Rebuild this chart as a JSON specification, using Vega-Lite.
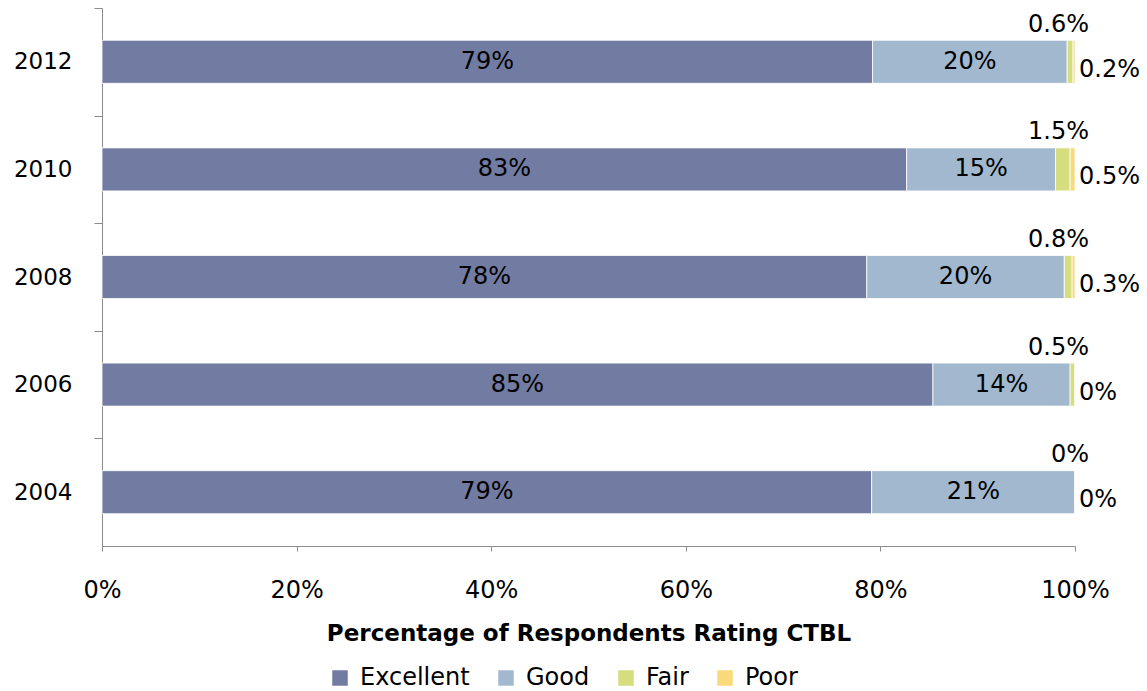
{
  "$schema": "https://vega.github.io/schema/vega-lite/v6.json",
  "width": 973,
  "height": 538,
  "autosize": {"type": "none"},
  "padding": {"left": 102, "top": 8, "right": 72, "bottom": 145},
  "config": {"font": "DejaVu Sans", "view": {"stroke": null}},
  "data": {
    "values": [
      {"year": "2012", "rating": "Excellent", "order": 1, "value": 79.2, "label": "79%"},
      {"year": "2012", "rating": "Good", "order": 2, "value": 20.0, "label": "20%"},
      {"year": "2012", "rating": "Fair", "order": 3, "value": 0.6, "label": "0.6%"},
      {"year": "2012", "rating": "Poor", "order": 4, "value": 0.2, "label": "0.2%"},
      {"year": "2010", "rating": "Excellent", "order": 1, "value": 82.7, "label": "83%"},
      {"year": "2010", "rating": "Good", "order": 2, "value": 15.3, "label": "15%"},
      {"year": "2010", "rating": "Fair", "order": 3, "value": 1.5, "label": "1.5%"},
      {"year": "2010", "rating": "Poor", "order": 4, "value": 0.5, "label": "0.5%"},
      {"year": "2008", "rating": "Excellent", "order": 1, "value": 78.6, "label": "78%"},
      {"year": "2008", "rating": "Good", "order": 2, "value": 20.3, "label": "20%"},
      {"year": "2008", "rating": "Fair", "order": 3, "value": 0.8, "label": "0.8%"},
      {"year": "2008", "rating": "Poor", "order": 4, "value": 0.3, "label": "0.3%"},
      {"year": "2006", "rating": "Excellent", "order": 1, "value": 85.4, "label": "85%"},
      {"year": "2006", "rating": "Good", "order": 2, "value": 14.1, "label": "14%"},
      {"year": "2006", "rating": "Fair", "order": 3, "value": 0.5, "label": "0.5%"},
      {"year": "2006", "rating": "Poor", "order": 4, "value": 0, "label": "0%"},
      {"year": "2004", "rating": "Excellent", "order": 1, "value": 79.1, "label": "79%"},
      {"year": "2004", "rating": "Good", "order": 2, "value": 20.9, "label": "21%"},
      {"year": "2004", "rating": "Fair", "order": 3, "value": 0, "label": "0%"},
      {"year": "2004", "rating": "Poor", "order": 4, "value": 0, "label": "0%"}
    ]
  },
  "transform": [
    {"stack": "value", "groupby": ["year"], "sort": [{"field": "order"}], "as": ["x0", "x1"]},
    {"calculate": "(datum.x0 + datum.x1) / 2", "as": "mid"}
  ],
  "encoding": {
    "y": {
      "field": "year",
      "type": "ordinal",
      "sort": "descending",
      "scale": {"paddingInner": 0.6, "paddingOuter": 0.3},
      "axis": {
        "title": null,
        "domainColor": "#8c8c8c",
        "tickColor": "#8c8c8c",
        "tickSize": 8,
        "tickOffset": -53.8,
        "labelOffset": 53.8,
        "labelFontSize": 23,
        "labelColor": "black",
        "labelPadding": 22
      }
    }
  },
  "layer": [
    {
      "mark": {"type": "bar", "stroke": "white", "strokeWidth": 0.8},
      "encoding": {
        "x": {
          "field": "x0",
          "type": "quantitative",
          "scale": {"domain": [0, 100], "nice": false},
          "axis": {
            "values": [0, 20, 40, 60, 80, 100],
            "labelExpr": "datum.value + '%'",
            "labelFlush": false,
            "grid": false,
            "tickSize": 5,
            "domainColor": "#8c8c8c",
            "tickColor": "#8c8c8c",
            "labelFontSize": 24,
            "labelColor": "black",
            "labelPadding": 27,
            "title": "Percentage of Respondents Rating CTBL",
            "titleFontSize": 23,
            "titleFontWeight": "bold",
            "titleColor": "black",
            "titlePadding": 20
          }
        },
        "x2": {"field": "x1"},
        "color": {
          "field": "rating",
          "type": "nominal",
          "scale": {
            "domain": ["Excellent", "Good", "Fair", "Poor"],
            "range": ["#727BA2", "#A1B8CF", "#D5DD7F", "#F8DA7C"]
          },
          "legend": {
            "orient": "none",
            "legendX": 226,
            "legendY": 658,
            "direction": "horizontal",
            "title": null,
            "labelFontSize": 24,
            "labelColor": "black",
            "symbolType": "square",
            "symbolSize": 240,
            "symbolStrokeWidth": 0,
            "columnPadding": 24,
            "labelOffset": 8
          }
        }
      }
    },
    {
      "transform": [{"filter": "datum.rating == 'Excellent' || datum.rating == 'Good'"}],
      "mark": {"type": "text", "fontSize": 24, "color": "black", "baseline": "middle"},
      "encoding": {
        "x": {"field": "mid", "type": "quantitative"},
        "text": {"field": "label"}
      }
    },
    {
      "transform": [{"filter": "datum.rating == 'Fair'"}],
      "mark": {"type": "text", "fontSize": 24, "color": "black", "baseline": "middle", "align": "right", "dx": 14, "dy": -37},
      "encoding": {
        "x": {"datum": 100, "type": "quantitative"},
        "text": {"field": "label"}
      }
    },
    {
      "transform": [{"filter": "datum.rating == 'Poor'"}],
      "mark": {"type": "text", "fontSize": 24, "color": "black", "baseline": "middle", "align": "left", "dx": 4, "dy": 8},
      "encoding": {
        "x": {"datum": 100, "type": "quantitative"},
        "text": {"field": "label"}
      }
    }
  ]
}
